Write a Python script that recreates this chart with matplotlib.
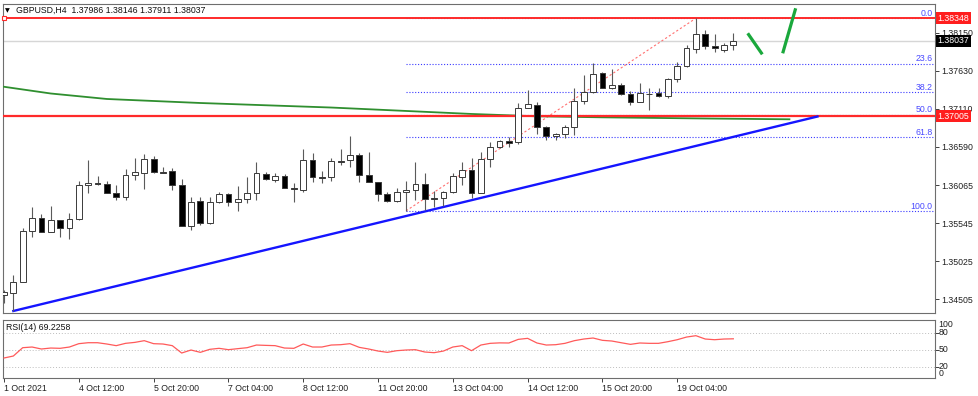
import matplotlib
matplotlib.use("Agg")
import matplotlib.pyplot as plt
import matplotlib.transforms as mtransforms

plt.rcParams['font.family'] = ['Liberation Sans', 'DejaVu Sans']

# ---------------- data ----------------
title_text = "GBPUSD,H4  1.37986 1.38146 1.37911 1.38037"
rsi_title = "RSI(14) 69.2258"

opens = [1.34561, 1.34592, 1.34743, 1.35441, 1.35610, 1.35423, 1.35587, 1.35482, 1.35597, 1.36062,
         1.36089, 1.36084, 1.35961, 1.35898, 1.36199, 1.36234, 1.36422, 1.36244, 1.36253, 1.36070,
         1.35509, 1.35843, 1.35542, 1.35829, 1.35939, 1.35829, 1.35870, 1.35952, 1.36221, 1.36134,
         1.36189, 1.36021, 1.35997, 1.36408, 1.36171, 1.36171, 1.36390, 1.36408, 1.36481, 1.36203,
         1.36107, 1.35943, 1.35847, 1.35970, 1.35997, 1.36076, 1.35884, 1.35884, 1.35974, 1.36180,
         1.36271, 1.35952, 1.36418, 1.36582, 1.36672, 1.36650, 1.37124, 1.37161, 1.36864, 1.36736,
         1.36768, 1.36864, 1.37215, 1.37334, 1.37594, 1.37389, 1.37430, 1.37311, 1.37198, 1.37315,
         1.37325, 1.37280, 1.37516, 1.37690, 1.37931, 1.38132, 1.37972, 1.37913, 1.37986]
highs = [1.34629, 1.34834, 1.35473, 1.35769, 1.35665, 1.35783, 1.35590, 1.35687, 1.36117, 1.36408,
         1.36189, 1.36125, 1.36070, 1.36281, 1.36431, 1.36486, 1.36459, 1.36308, 1.36294, 1.36152,
         1.35906, 1.35906, 1.35906, 1.35974, 1.35952, 1.36056, 1.36180, 1.36385, 1.36248, 1.36226,
         1.36216, 1.36089, 1.36561, 1.36500, 1.36258, 1.36431, 1.36559, 1.36741, 1.36500, 1.36513,
         1.36111, 1.35974, 1.36021, 1.36121, 1.36377, 1.36226, 1.35988, 1.35984, 1.36226, 1.36385,
         1.36440, 1.36513, 1.36650, 1.36682, 1.36719, 1.37184, 1.37366, 1.37198, 1.36873, 1.36773,
         1.36887, 1.37389, 1.37571, 1.37731, 1.37616, 1.37653, 1.37466, 1.37348, 1.37462, 1.37393,
         1.37393, 1.37530, 1.37745, 1.37986, 1.38348, 1.38191, 1.38132, 1.38009, 1.38146]
lows = [1.34451, 1.34342, 1.34732, 1.35358, 1.35423, 1.35416, 1.35350, 1.35327, 1.35587, 1.35952,
        1.36062, 1.35950, 1.35861, 1.35861, 1.36134, 1.36007, 1.36233, 1.36230, 1.35997, 1.35505,
        1.35450, 1.35519, 1.35539, 1.35826, 1.35779, 1.35710, 1.35816, 1.35861, 1.36134, 1.36111,
        1.36021, 1.35837, 1.35974, 1.36111, 1.36097, 1.36121, 1.36340, 1.36316, 1.36111, 1.36103,
        1.35847, 1.35829, 1.35829, 1.35712, 1.35861, 1.35724, 1.35761, 1.35779, 1.35952, 1.36066,
        1.35884, 1.35950, 1.36316, 1.36578, 1.36590, 1.36623, 1.37120, 1.36764, 1.36682, 1.36682,
        1.36713, 1.36750, 1.37170, 1.37331, 1.37393, 1.37386, 1.37293, 1.37165, 1.37195, 1.37096,
        1.37266, 1.37256, 1.37475, 1.37687, 1.37872, 1.37931, 1.37882, 1.37882, 1.37911]
closes = [1.34606, 1.34743, 1.35441, 1.35610, 1.35427, 1.35587, 1.35482, 1.35605, 1.36062, 1.36093,
          1.36082, 1.35952, 1.35898, 1.36207, 1.36240, 1.36422, 1.36237, 1.36234, 1.36062, 1.35509,
          1.35837, 1.35542, 1.35829, 1.35939, 1.35829, 1.35874, 1.35961, 1.36226, 1.36148, 1.36189,
          1.36025, 1.36007, 1.36404, 1.36171, 1.36167, 1.36390, 1.36387, 1.36481, 1.36203, 1.36107,
          1.35943, 1.35847, 1.35974, 1.36002, 1.36076, 1.35870, 1.35881, 1.35974, 1.36185, 1.36271,
          1.35952, 1.36418, 1.36586, 1.36668, 1.36637, 1.37124, 1.37170, 1.36864, 1.36741, 1.36764,
          1.36864, 1.37215, 1.37334, 1.37585, 1.37396, 1.37430, 1.37311, 1.37198, 1.37329, 1.37312,
          1.37280, 1.37516, 1.37698, 1.37941, 1.38132, 1.37972, 1.37941, 1.37986, 1.38037]

rsi_values = [35.3, 38.8, 53.5, 54.7, 51.2, 52.9, 52.4, 54.7, 60.6, 62.3,
              62.3, 60.0, 57.1, 61.2, 62.9, 65.9, 60.6, 60.0, 57.1, 44.1,
              49.4, 45.3, 50.6, 52.4, 50.0, 51.8, 53.5, 58.2, 57.6, 57.1,
              52.9, 52.4, 60.0, 54.7, 54.7, 58.2, 58.8, 60.6, 54.1, 51.2,
              47.6, 45.3, 48.2, 49.4, 50.0, 45.9, 44.7, 47.6, 54.7, 57.1,
              48.2, 58.2, 61.2, 62.0, 61.8, 68.2, 70.0, 61.8, 58.2, 58.8,
              61.2, 65.9, 68.8, 70.6, 66.5, 65.3, 62.3, 59.4, 61.8, 61.2,
              61.2, 64.1, 67.6, 72.3, 74.7, 68.8, 67.6, 68.8, 69.2]

ma_bars = [0, 5, 11, 21, 35, 42, 50, 57, 64, 75, 84]
ma_values = [1.37410, 1.37318, 1.37243, 1.37188, 1.37126, 1.37085, 1.37038, 1.37006, 1.36992, 1.36976, 1.36965]

resistance_level = 1.38348
support_level = 1.37005
current_price = 1.38037

trend_bars = [1, 87]
trend_prices = [1.34342, 1.37003]

fib_bars = [43, 74]
fib_prices = [1.35712, 1.38348]
fib_levels = [0.0, 23.6, 38.2, 50.0, 61.8, 100.0]

arrow1_bars = [79.54, 81.10]
arrow1_prices = [1.38142, 1.37854]
arrow2_bars = [83.28, 84.67]
arrow2_prices = [1.37868, 1.38484]

price_ticks = [1.38150, 1.37630, 1.37110, 1.36590, 1.36065, 1.35545, 1.35025, 1.34505]
rsi_ticks = [100, 80, 50, 20, 0]
rsi_levels = [80, 50, 20]

date_bars = [0, 8, 16, 24, 32, 40, 48, 56, 64, 72]
date_labels = ["1 Oct 2021", "4 Oct 12:00", "5 Oct 20:00", "7 Oct 04:00", "8 Oct 12:00",
               "11 Oct 20:00", "13 Oct 04:00", "14 Oct 12:00", "15 Oct 20:00", "19 Oct 04:00"]

# ---------------- layout ----------------
W, H = 979, 396
fig = plt.figure(figsize=(W / 100, H / 100), dpi=100)
fig.patch.set_facecolor('white')

L, R = 3, 935
ax = fig.add_axes([L / W, 1 - 312.7 / H, (R - L) / W, (312.7 - 4) / H])
rax = fig.add_axes([L / W, 1 - 378 / H, (R - L) / W, (378 - 320) / H])

xlim = (-0.107, 99.57)
FS = 6.3
frame_col = '#6e6e6e'

# ---------------- main panel ----------------
ax.set_xlim(*xlim)
ax.set_ylim(1.343185, 1.385427)

# horizontal reference lines
ax.axhline(current_price, color='#d6d6d6', lw=1.0, zorder=1)
ax.axhline(resistance_level, color='#ff2a2a', lw=1.4, zorder=4)
ax.axhline(support_level, color='#ff2a2a', lw=1.6, zorder=4)
ax.plot([0], [resistance_level], marker='s', ms=2.6, mfc='white', mec='#ff2a2a', mew=0.8, zorder=6, clip_on=False)

# moving average
ax.plot(ma_bars, ma_values, color='#2f8f2f', lw=1.3, zorder=3)

# fibonacci
f_low, f_high = fib_prices
for lvl in fib_levels:
    p = f_high - (f_high - f_low) * lvl / 100.0
    ax.hlines(p, fib_bars[0], xlim[1], colors='#3a3aff', lw=0.8, linestyles=(0, (1, 1.6)), zorder=2)
    ax.text(xlim[1] - 0.25, p + 0.00004, f"{lvl:.1f}", ha='right', va='bottom', color='#4a4aff',
            fontsize=FS, zorder=6)
ax.plot(fib_bars, fib_prices, color='#ff7070', lw=0.8, ls=(0, (2, 2)), zorder=2)

# trend line
ax.plot(trend_bars, trend_prices, color='#1515ff', lw=1.7, zorder=5)

# candles
for i, (o, h, l, c) in enumerate(zip(opens, highs, lows, closes)):
    ax.vlines(i, l, h, color='#5a5a5a', lw=0.8, zorder=6)
    bull = c >= o
    bottom = min(o, c)
    height = max(abs(c - o), 0.00001)
    ax.bar(i, height, width=0.62, bottom=bottom, color='white' if bull else 'black',
           edgecolor='#3a3a3a', linewidth=0.7, zorder=7)

# hand drawn arrows
ax.plot(arrow1_bars, arrow1_prices, color='#1aa83c', lw=2.3, zorder=8, solid_capstyle='butt')
ax.plot(arrow2_bars, arrow2_prices, color='#1aa83c', lw=2.3, zorder=8, solid_capstyle='butt')

# axes styling
ax.set_xticks([])
ax.yaxis.tick_right()
ax.set_yticks(price_ticks)
ax.set_yticklabels([f"{p:.5f}" for p in price_ticks])
ax.tick_params(axis='y', length=3, width=0.6, pad=1.5, labelsize=FS, colors='#202020')
for s in ax.spines.values():
    s.set_color(frame_col)
    s.set_linewidth(0.8)

blend = mtransforms.blended_transform_factory(ax.transAxes, ax.transData)
for val, bg in [(resistance_level, '#ff1e1e'), (current_price, '#000000'), (support_level, '#ff1e1e')]:
    ax.text(1.0025, val, f"{val:.5f}", transform=blend, ha='left', va='center', color='white',
            fontsize=FS, zorder=10, clip_on=False,
            bbox=dict(boxstyle='square,pad=0.18', fc=bg, ec='none'))

fig.text(4.5 / W, 1 - 10.5 / H, '\u25bc', fontsize=4.5, family=['DejaVu Sans'], va='center', ha='left')
fig.text(16 / W, 1 - 10.5 / H, title_text, fontsize=FS, va='center', ha='left', color='#111111')

# ---------------- RSI panel ----------------
rax.set_xlim(*xlim)
rax.set_ylim(0, 102.4)
for lv in rsi_levels:
    rax.axhline(lv, color='#bdbdbd', lw=0.7, ls=(0, (1, 2)), zorder=1)
rax.plot(range(len(rsi_values)), rsi_values, color='#ff5a5a', lw=0.9, zorder=3)

rax.yaxis.tick_right()
rax.set_yticks(rsi_levels)
rax.set_yticklabels([])
rax.tick_params(axis='y', length=3, width=0.6, colors='#202020')
rblend = mtransforms.blended_transform_factory(rax.transAxes, rax.transData)
for v in rsi_ticks:
    va = 'center'
    yv = v
    if v == 100:
        va = 'top'
        yv = 102.4
    elif v == 0:
        va = 'bottom'
        yv = 0.5
    rax.text(1.004, yv, str(v), transform=rblend, ha='left', va=va, fontsize=FS, color='#202020',
             clip_on=False)

rax.set_xticks(date_bars)
rax.set_xticklabels(date_labels, ha='left', fontsize=FS, color='#202020')
rax.tick_params(axis='x', length=3, width=0.6, pad=1.5, colors='#202020')
for s in rax.spines.values():
    s.set_color(frame_col)
    s.set_linewidth(0.8)

fig.text(6 / W, 1 - 327 / H, rsi_title, fontsize=FS, va='center', ha='left', color='#111111')

fig.savefig('out.png', dpi=100, facecolor='white')
